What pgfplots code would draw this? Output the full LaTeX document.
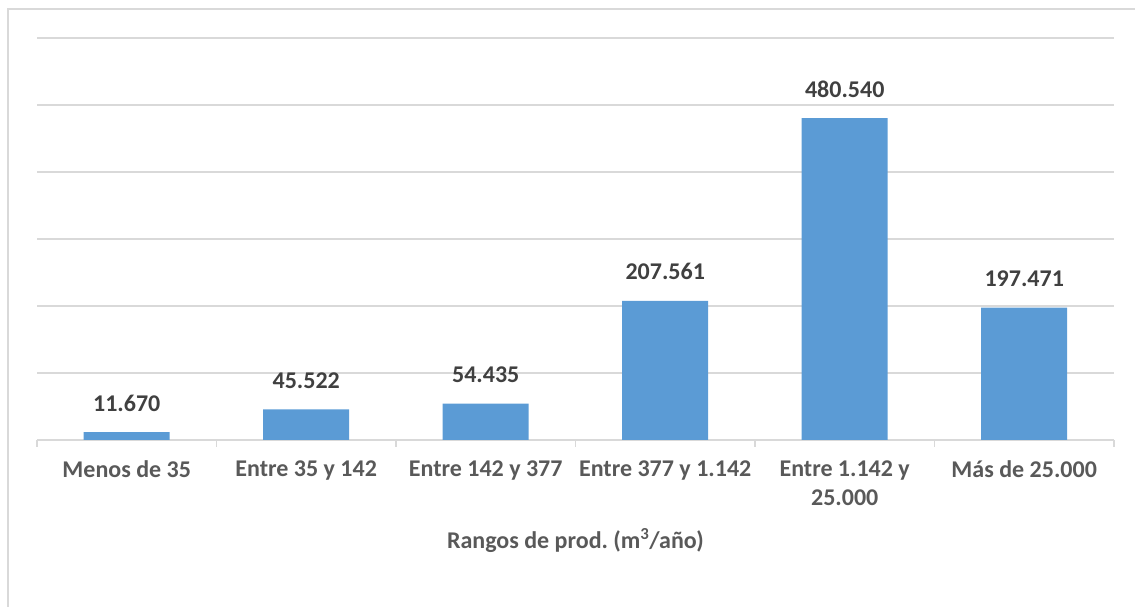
\documentclass[border=0pt]{standalone}
\usepackage{fontspec}
\setmainfont{Carlito}
\usepackage{pgfplots}
\usepackage{pgfplotstable}
\pgfplotsset{compat=1.18}
\definecolor{barblue}{HTML}{5B9BD5}
\definecolor{gridgray}{HTML}{D9D9D9}
\definecolor{txtgray}{HTML}{595959}
\definecolor{lblgray}{HTML}{404040}
\pgfplotstableread{
x y lbl
0 11670 11.670
1 45522 45.522
2 54435 54.435
3 207561 207.561
4 480540 480.540
5 197471 197.471
}\datatable
\begin{document}
\frenchspacing
\begin{tikzpicture}
\path[use as bounding box] (0,0) rectangle (1135pt,607pt);
\draw[gridgray, line width=2.2pt] (8pt,0) -- (8pt,598pt) -- (1135pt,598pt);
\begin{axis}[
  at={(37pt,167pt)}, anchor=south west,
  scale only axis, width=1077pt, height=402pt,
  xmin=-0.5, xmax=5.5, ymin=0, ymax=600000,
  scaled y ticks=false,
  ybar, bar width=86pt,
  axis x line*=bottom, axis y line*=left,
  y axis line style={draw=none},
  x axis line style={gridgray, line width=1.6pt},
  ytick={0,100000,...,600000}, yticklabels={},
  ytick style={draw=none},
  ymajorgrids, grid style={gridgray, line width=1.6pt},
  xtick={0,...,5},
  xticklabels={Menos de 35, Entre 35 y 142, Entre 142 y 377, Entre 377 y 1.142, {Entre 1.142 y\\25.000}, Más de 25.000},
  major tick length=0pt,
  xticklabel style={align=center, font=\fontsize{24}{29}\selectfont\bfseries, text=txtgray, anchor=north, yshift=-17pt},
  extra x ticks={-0.5,0.5,...,5.5},
  extra x tick labels={},
  extra x tick style={grid=none, xtick align=outside, major tick length=7pt, tick style={gridgray, line width=1.6pt}},
  xlabel={Rangos de prod.\ (m\textsuperscript{3}/año)},
  xlabel style={at={(axis description cs:0.5,-0.249)}, anchor=center, font=\fontsize{24}{26}\selectfont\bfseries, text=txtgray},
  nodes near coords,
  point meta=explicit symbolic,
  every node near coord/.append style={anchor=base, yshift=21pt, font=\fontsize{24}{26}\selectfont\bfseries, text=lblgray},
]
\addplot[fill=barblue, draw=none] table[x=x, y=y, meta=lbl] {\datatable};
\end{axis}
\end{tikzpicture}
\end{document}
